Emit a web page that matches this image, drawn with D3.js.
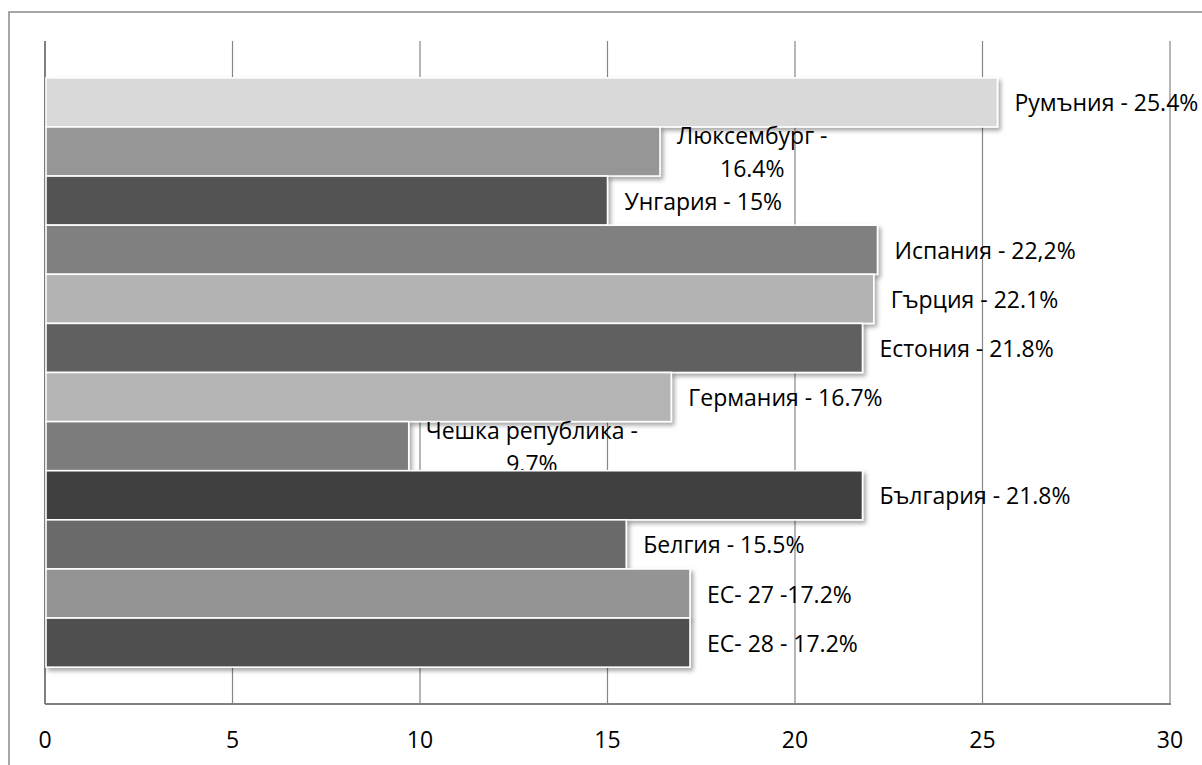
<!DOCTYPE html>
<html>
<head>
<meta charset="utf-8">
<script src="https://cdn.jsdelivr.net/npm/d3@7"></script>
<style>
  html, body { margin: 0; padding: 0; background: #fff; }
  svg { display: block; }
</style>
</head>
<body>
<svg id="chart" width="1202" height="765"></svg>
<script>
// Data (top to bottom)
const countries = ["Румъния", "Люксембург", "Унгария", "Испания", "Гърция", "Естония",
  "Германия", "Чешка република", "България", "Белгия", "ЕС-27", "ЕС-28"];
const values = [25.4, 16.4, 15, 22.2, 22.1, 21.8, 16.7, 9.7, 21.8, 15.5, 17.2, 17.2];
const labels = [
  ["Румъния - 25.4%"],
  ["Люксембург -", "16.4%"],
  ["Унгария - 15%"],
  ["Испания - 22,2%"],
  ["Гърция - 22.1%"],
  ["Естония - 21.8%"],
  ["Германия - 16.7%"],
  ["Чешка република -", "9.7%"],
  ["България - 21.8%"],
  ["Белгия - 15.5%"],
  ["ЕС- 27 -17.2%"],
  ["ЕС- 28 - 17.2%"]
];
const colors = ["#d9d9d9", "#969696", "#525252", "#808080", "#b3b3b3", "#616161",
  "#b4b4b4", "#7b7b7b", "#404040", "#6a6a6a", "#949494", "#505050"];
const xTicks = [0, 5, 10, 15, 20, 25, 30];

const svg = d3.select("#chart");
const FONT = "'Open Sans', 'DejaVu Sans', sans-serif";
const FS = 23;

// outer border
svg.append("rect").attr("x", 9).attr("y", 12).attr("width", 1300).attr("height", 900)
  .attr("fill", "none").attr("stroke", "#8a8a8a").attr("stroke-width", 1.5);

const pLeft = 45, pRight = 1170, pTop = 41, pBottom = 704;
const x = d3.scaleLinear().domain([0, 30]).range([pLeft, pRight]);
const y = d3.scaleBand().domain(countries).range([pTop, pBottom]).paddingInner(0).paddingOuter(0.75);

const defs = svg.append("defs");
const f = defs.append("filter").attr("id", "shadow").attr("x", "-5%").attr("y", "-20%")
  .attr("width", "115%").attr("height", "160%");
f.append("feDropShadow").attr("dx", 2.5).attr("dy", 3).attr("stdDeviation", 2)
  .attr("flood-color", "#000").attr("flood-opacity", 0.35);

// gridlines
svg.append("g").selectAll("line").data(xTicks.slice(1)).join("line")
  .attr("x1", d => x(d)).attr("x2", d => x(d))
  .attr("y1", pTop).attr("y2", pBottom)
  .attr("stroke", "#868686").attr("stroke-width", 1.2);

// axes lines
svg.append("line").attr("x1", pLeft).attr("x2", pLeft).attr("y1", pTop).attr("y2", pBottom)
  .attr("stroke", "#808080").attr("stroke-width", 2);
svg.append("line").attr("x1", pLeft).attr("x2", pRight + 1).attr("y1", pBottom).attr("y2", pBottom)
  .attr("stroke", "#808080").attr("stroke-width", 2);

// tick labels
svg.append("g").selectAll("text").data(xTicks).join("text")
  .attr("x", d => x(d)).attr("y", 739)
  .attr("text-anchor", "middle").attr("dominant-baseline", "central")
  .attr("font-family", FONT).attr("font-size", FS).attr("fill", "#000")
  .text(d => d);

// bars + labels, top to bottom
const g = svg.append("g");
countries.forEach((c, i) => {
  const bw = x(values[i]) - x(0);
  g.append("rect")
    .attr("x", x(0) + 1).attr("y", y(c))
    .attr("width", bw - 1).attr("height", y.bandwidth())
    .attr("fill", colors[i]).attr("stroke", "#fff").attr("stroke-width", 1.6)
    .attr("filter", "url(#shadow)");
  const cy = y(c) + y.bandwidth() / 2;
  const lines = labels[i];
  const lh = 33;
  const t = g.append("text")
    .attr("font-family", FONT).attr("font-size", FS).attr("fill", "#000")
    .attr("dominant-baseline", "central");
  if (lines.length === 1) {
    t.attr("x", x(values[i]) + 17).attr("y", cy).text(lines[0]);
  } else {
    t.append("tspan").text(lines[0]);
    const w = t.node().getComputedTextLength();
    t.text(null);
    const cx = x(values[i]) + 17 + w / 2;
    t.attr("text-anchor", "middle");
    lines.forEach((ln, k) => {
      t.append("tspan").attr("x", cx).attr("y", cy + (k - (lines.length - 1) / 2) * lh).text(ln);
    });
  }
});
</script>
</body>
</html>
